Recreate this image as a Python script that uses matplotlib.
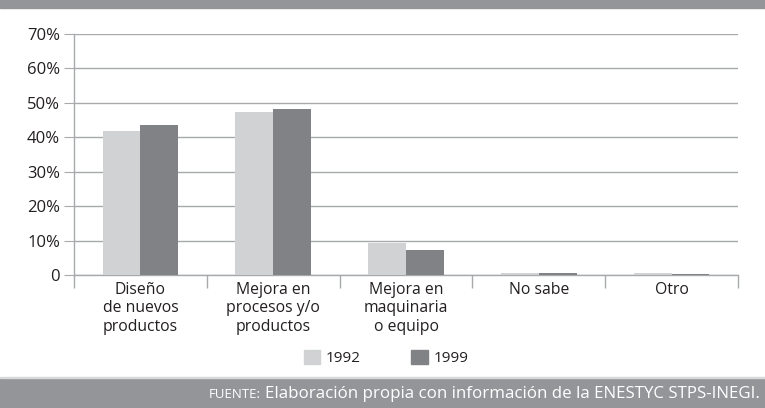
import numpy as np
import matplotlib
matplotlib.use("Agg")
import matplotlib.pyplot as plt
from matplotlib.patches import Patch, Rectangle

plt.rcParams['font.family'] = ['Open Sans', 'DejaVu Sans']

# data
categorias = ["Diseño\nde nuevos\nproductos", "Mejora en\nprocesos y/o\nproductos",
              "Mejora en\nmaquinaria\no equipo", "No sabe", "Otro"]
v1992 = [0.417, 0.474, 0.093, 0.005, 0.005]
v1999 = [0.435, 0.481, 0.073, 0.006, 0.003]
series = ["1992", "1999"]
yticks = [0, 0.1, 0.2, 0.3, 0.4, 0.5, 0.6, 0.7]
yticklabels = ["0", "10%", "20%", "30%", "40%", "50%", "60%", "70%"]
fuente = "Elaboración propia con información de la ENESTYC STPS-INEGI."

c_light = "#d1d2d4"
c_dark = "#808285"
c_grid = "#a7a9ac"
c_band = "#939598"
c_text = "#231f20"

fig = plt.figure(figsize=(7.65, 4.08), dpi=100)
ax = fig.add_axes([74/765, 1-275/408, (738-74)/765, (275-34)/408])

x = np.arange(len(categorias))
w = 0.285
ax.bar(x - w/2, v1992, w, color=c_light, zorder=3)
ax.bar(x + w/2, v1999, w, color=c_dark, zorder=3)

ax.set_xlim(-0.5, len(categorias) - 0.5)
ax.set_ylim(0, 0.7)
ax.set_yticks(yticks)
ax.set_yticklabels(yticklabels, fontsize=12, color=c_text)
ax.yaxis.grid(True, color=c_grid, linewidth=1, zorder=0)
ax.tick_params(axis="y", length=7, color=c_grid, pad=3)

ax.set_xticks(x)
ax.set_xticklabels(categorias, fontsize=11.3, color=c_text, linespacing=1.2, va="top")
ax.tick_params(axis="x", which="major", length=0, pad=5)
ax.set_xticks(np.arange(-0.5, len(categorias)), minor=True)
ax.tick_params(axis="x", which="minor", length=9, color=c_grid, width=1)

for s in ["top", "right"]:
    ax.spines[s].set_visible(False)
for s in ["left", "bottom"]:
    ax.spines[s].set_color(c_grid)
    ax.spines[s].set_linewidth(1)

handles = [Patch(color=c_light), Patch(color=c_dark)]
fig.legend(handles, series, loc="center", bbox_to_anchor=(386/765, 1-358/408), ncol=2,
           frameon=False, fontsize=11, handlelength=1.1, handleheight=1.1,
           columnspacing=3.3, handletextpad=0.35, labelcolor=c_text)

# gray bands top and bottom
fig.add_artist(Rectangle((0, 1-8/408), 1, 8/408, transform=fig.transFigure, color=c_band, zorder=0))
fig.add_artist(Rectangle((0, 0), 1, 30/408, transform=fig.transFigure, color=c_band, zorder=0))
fig.add_artist(Rectangle((0, 30/408), 1, 1.5/408, transform=fig.transFigure, color="#d8d9da", zorder=0))

t = fig.text(760/765, 10/408, fuente, ha="right", va="baseline", fontsize=12.2, color="white")
fig.canvas.draw()
bb = t.get_window_extent()
fig.text(bb.x0/765 - 4/765, 10/408, "FUENTE:", ha="right", va="baseline", fontsize=9.5, color="white")

fig.savefig("out.png", dpi=100)
